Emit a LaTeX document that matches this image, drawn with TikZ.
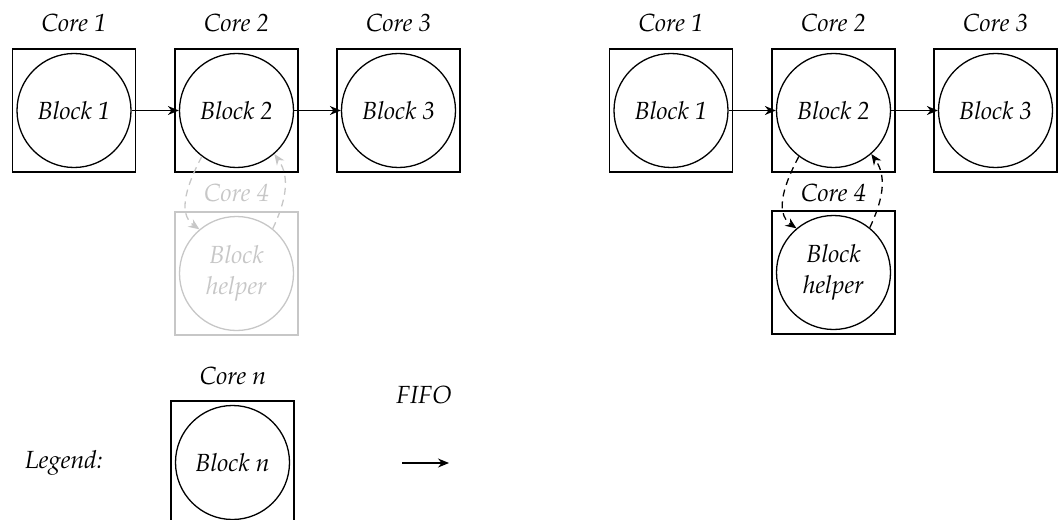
\documentclass[tikz,border=0pt]{standalone}
\usepackage[T1]{fontenc}
\usepackage{mathpazo}
\usetikzlibrary{arrows.meta}
\begin{document}
\begin{tikzpicture}[x=0.5pt,y=-0.5pt,
  every node/.style={font=\fontsize{12.4}{15.2}\selectfont\itshape, inner sep=0pt},
  corebox/.style={draw, line width=0.9pt, minimum size=61.5pt},
  blockc/.style={draw, circle, line width=0.65pt, minimum size=57pt, align=center},
  fifo/.style={-{Stealth[length=5.5pt,width=4.5pt]}, line width=0.65pt},
  feed/.style={-{Stealth[length=5.5pt,width=4.5pt]}, line width=0.65pt, dashed, dash pattern=on 3.5pt off 2.5pt},
  faded/.style={draw=black!22, text=black!22}]
\useasboundingbox (0,0) rectangle (1064,519);
% ---------- left ----------
\node[corebox] (L1) at (74,110.5) {};
\node[corebox] (L2) at (236.5,110.5) {};
\node[corebox] (L3) at (398.5,110.5) {};
\node[corebox, faded] (L4) at (236.5,273.5) {};
\node[blockc] (LB1) at (L1) {Block 1};
\node[blockc] (LB2) at (L2) {Block 2};
\node[blockc] (LB3) at (L3) {Block 3};
\node[blockc, faded] (LB4) at (L4) {Block\\helper};
\node (LC1) at (74,23) {Core 1};
\node (LC2) at (236.5,23) {Core 2};
\node (LC3) at (398.5,23) {Core 3};
\node[text=black!22] (LC4) at (236.5,193) {Core 4};
\draw[fifo] (LB1) -- (LB2);
\draw[fifo] (LB2) -- (LB3);
\draw[feed, draw=black!22] (LB2.-127) to[out=-118,in=145] (LB4.130);
\draw[feed, draw=black!22] (LB4.51) to[out=65,in=-55] (LB2.-49);
% ---------- right ----------
\node[corebox] (R1) at (671,110.5) {};
\node[corebox] (R2) at (833.5,110.5) {};
\node[corebox] (R3) at (995.5,110.5) {};
\node[corebox] (R4) at (833.5,272.5) {};
\node[blockc] (RB1) at (R1) {Block 1};
\node[blockc] (RB2) at (R2) {Block 2};
\node[blockc] (RB3) at (R3) {Block 3};
\node[blockc] (RB4) at (R4) {Block\\helper};
\node (RC1) at (671,23) {Core 1};
\node (RC2) at (833.5,23) {Core 2};
\node (RC3) at (995.5,23) {Core 3};
\node (RC4) at (833.5,193) {Core 4};
\draw[fifo] (RB1) -- (RB2);
\draw[fifo] (RB2) -- (RB3);
\draw[feed] (RB2.-127) to[out=-118,in=145] (RB4.130);
\draw[feed] (RB4.51) to[out=65,in=-55] (RB2.-49);
% ---------- legend ----------
\node (LEG) at (64,463) {Legend:};
\node[corebox] (N) at (232.5,462.5) {};
\node[blockc] (NB) at (N) {Block \textit{n}};
\node (NC) at (233,376) {Core \textit{n}};
\node (FIFO) at (424,395) {FIFO};
\coordinate (fa) at (402,463);
\coordinate (fb) at (449,463);
\draw[fifo] (fa) -- (fb);
\end{tikzpicture}
\end{document}
